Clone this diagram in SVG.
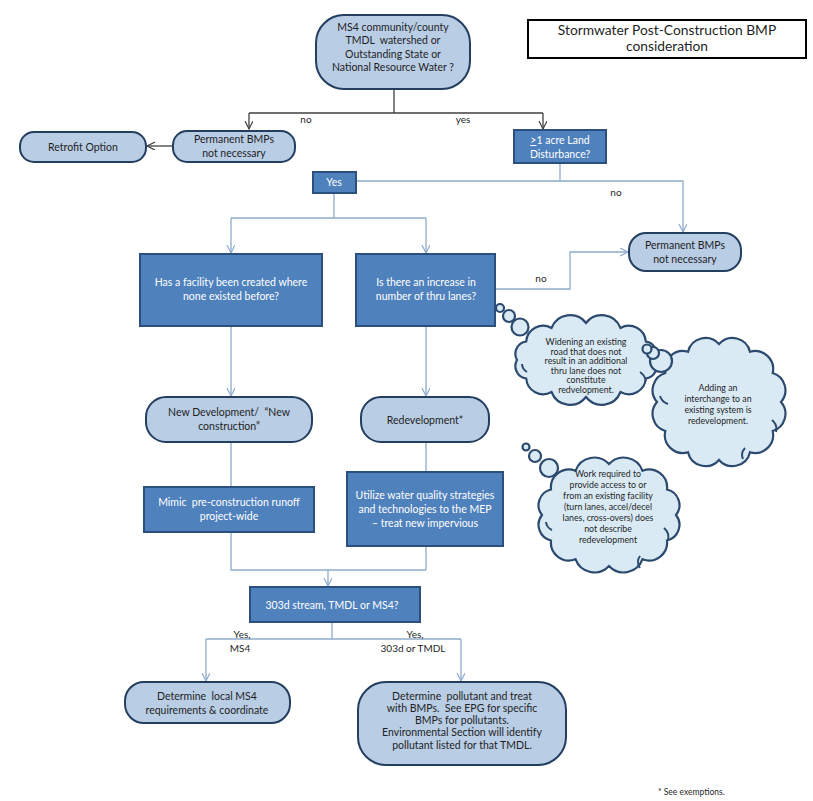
<svg xmlns="http://www.w3.org/2000/svg" width="813" height="801" viewBox="0 0 813 801">
<defs>
<style>
text{font-family:Lato,"Open Sans","Liberation Sans",sans-serif}
.lt{fill:#b9cde5;stroke:#233e5f;stroke-width:2}
.dk{fill:#4f81bd;stroke:#2b4f7e;stroke-width:2}
.cl{fill:#d9eaf5;stroke:#2c4a6e;stroke-width:2.2}
.cr{fill:none;stroke:#2c4a6e;stroke-width:2}
.t{font-size:10.5px;fill:#1f1f1f;text-anchor:middle;white-space:pre}
.w{font-size:10.5px;fill:#ffffff;text-anchor:middle;white-space:pre}
.c{font-size:8.8px;fill:#262626;text-anchor:middle}
.lb{font-size:10px;fill:#1f1f1f;text-anchor:middle}
.cd{fill:none;stroke:#404040;stroke-width:1.3}
.cb{fill:none;stroke:#8eaacc;stroke-width:1.3}
</style>
<marker id="ad" markerWidth="10" markerHeight="10" refX="8" refY="4" orient="auto" markerUnits="userSpaceOnUse"><path d="M0,0 L8,4 L0,8" fill="none" stroke="#404040" stroke-width="1.2"/></marker>
<marker id="ab" markerWidth="10" markerHeight="10" refX="8" refY="4" orient="auto" markerUnits="userSpaceOnUse"><path d="M0,0 L8,4 L0,8" fill="none" stroke="#8eaacc" stroke-width="1.2"/></marker>
</defs>
<rect width="813" height="801" fill="#ffffff"/>

<g id="connectors">
<path class="cd" d="M394,89 V113 M249,113 H543"/>
<path class="cd" d="M249,113 V129" marker-end="url(#ad)"/>
<path class="cd" d="M543,113 V129" marker-end="url(#ad)"/>
<path class="cd" d="M173,146 H147" marker-end="url(#ad)"/>
<path class="cb" d="M560,163 V181"/>
<path class="cb" d="M356,181 H683 V232" marker-end="url(#ab)"/>
<path class="cb" d="M334,193 V218 M231,218 H426"/>
<path class="cb" d="M231,218 V253" marker-end="url(#ab)"/>
<path class="cb" d="M426,218 V253" marker-end="url(#ab)"/>
<path class="cb" d="M495,289 H570 V252 H628" marker-end="url(#ab)"/>
<path class="cb" d="M231,326 V396" marker-end="url(#ab)"/>
<path class="cb" d="M426,326 V396" marker-end="url(#ab)"/>
<path class="cb" d="M231,442 V487 M426,442 V472"/>
<path class="cb" d="M231,532 V570 H426 M426,546 V570"/>
<path class="cb" d="M328,570 V586" marker-end="url(#ab)"/>
<path class="cb" d="M332,622 V639 M206,639 H461"/>
<path class="cb" d="M206,639 V681" marker-end="url(#ab)"/>
<path class="cb" d="M461,639 V681" marker-end="url(#ab)"/>
<text class="lb" x="306" y="123">no</text>
<text class="lb" x="463" y="123">yes</text>
<text class="lb" x="616" y="196">no</text>
<text class="lb" x="541" y="282">no</text>
<text class="lb" x="242" y="638">Yes,</text>
<text class="lb" x="240" y="652">MS4</text>
<text class="lb" x="415" y="638">Yes,</text>
<text class="lb" x="413" y="652">303d or TMDL</text>
</g>

<g id="title">
<rect x="528" y="20" width="278" height="38" fill="#ffffff" stroke="#000000" stroke-width="2"/>
<text x="667" y="35" font-size="13.8" fill="#1f1f1f" text-anchor="middle">Stormwater Post-Construction BMP</text>
<text x="667" y="51" font-size="13.8" fill="#1f1f1f" text-anchor="middle">consideration</text>
</g>

<g id="n-top">
<rect class="lt" x="316" y="15" width="154" height="74" rx="28"/>
<text class="t" x="393" y="31">MS4 community/county</text>
<text class="t" x="393" y="44">TMDL  watershed or</text>
<text class="t" x="393" y="58">Outstanding State or</text>
<text class="t" x="393" y="71">National Resource Water ?</text>
</g>

<g id="n-perm1">
<rect class="lt" x="173" y="131" width="122" height="31" rx="14"/>
<text class="t" x="234" y="143">Permanent BMPs</text>
<text class="t" x="234" y="157">not necessary</text>
</g>

<g id="n-retrofit">
<rect class="lt" x="20" y="132" width="126" height="30" rx="14"/>
<text class="t" x="83" y="151">Retrofit Option</text>
</g>

<g id="n-acre">
<rect class="dk" x="514" y="130" width="92" height="33"/>
<text class="w" x="560" y="144"><tspan text-decoration="underline">&gt;</tspan>1 acre Land</text>
<text class="w" x="560" y="158">Disturbance?</text>
</g>

<g id="n-yes">
<rect class="dk" x="313" y="172" width="43" height="21"/>
<text class="w" x="334" y="186">Yes</text>
</g>

<g id="n-perm2">
<rect class="lt" x="629" y="233" width="112" height="38" rx="17"/>
<text class="t" x="685" y="249">Permanent BMPs</text>
<text class="t" x="685" y="263">not necessary</text>
</g>

<g id="n-facility">
<rect class="dk" x="140" y="254" width="182" height="72"/>
<text class="w" x="231" y="286">Has a facility been created where</text>
<text class="w" x="231" y="300">none existed before?</text>
</g>

<g id="n-lanes">
<rect class="dk" x="356" y="254" width="139" height="72"/>
<text class="w" x="426" y="286">Is there an increase in</text>
<text class="w" x="426" y="300">number of thru lanes?</text>
</g>

<g id="n-newdev">
<rect class="lt" x="146" y="397" width="166" height="45" rx="20"/>
<text class="t" x="229" y="416">New Development/  “New</text>
<text class="t" x="229" y="430">construction”</text>
</g>

<g id="n-redev">
<rect class="lt" x="361" y="397" width="128" height="45" rx="20"/>
<text class="t" x="425" y="424">Redevelopment*</text>
</g>

<g id="n-mimic">
<rect class="dk" x="144" y="487" width="170" height="45"/>
<text class="w" x="229" y="506">Mimic  pre-construction runoff</text>
<text class="w" x="229" y="520">project-wide</text>
</g>

<g id="n-utilize">
<rect class="dk" x="347" y="472" width="156" height="74"/>
<text class="w" x="425" y="499">Utilize water quality strategies</text>
<text class="w" x="425" y="513">and technologies to the MEP</text>
<text class="w" x="425" y="527">– treat new impervious</text>
</g>

<g id="n-303d">
<rect class="dk" x="250" y="587" width="170" height="35"/>
<text class="w" x="332" y="609">303d stream, TMDL or MS4?</text>
</g>

<g id="n-local">
<rect class="lt" x="125" y="682" width="165" height="41" rx="19"/>
<text class="t" x="207" y="700">Determine  local MS4</text>
<text class="t" x="207" y="714">requirements &amp; coordinate</text>
</g>

<g id="n-pollutant">
<rect class="lt" x="358" y="682" width="208" height="83" rx="28"/>
<text class="t" x="462" y="700">Determine  pollutant and treat</text>
<text class="t" x="462" y="712">with BMPs.  See EPG for specific</text>
<text class="t" x="462" y="724">BMPs for pollutants.</text>
<text class="t" x="462" y="736">Environmental Section will identify</text>
<text class="t" x="462" y="749">pollutant listed for that TMDL.</text>
</g>

<g id="cloud-widening">
<circle class="cl" cx="500" cy="308" r="4"/>
<circle class="cl" cx="509" cy="316" r="6"/>
<circle class="cl" cx="520" cy="327" r="8.5"/>
<path class="cl" d="M655,360 A12.5,12.5 0 0 1 645.8,378.5 A17,17 0 0 1 620.5,392 A20,20 0 0 1 586,397 A20,20 0 0 1 551.5,392 A17,17 0 0 1 526.2,378.5 A12.5,12.5 0 0 1 517,360 A12.5,12.5 0 0 1 526.2,341.5 A17,17 0 0 1 551.5,328 A20,20 0 0 1 586,323 A20,20 0 0 1 620.5,328 A17,17 0 0 1 645.8,341.5 A12.5,12.5 0 0 1 655,360 Z"/>
<path class="cr" d="M640,372 A14,14 0 0 1 646,381 M522,364 A10,10 0 0 0 527,372"/>
<text class="c" x="586" y="345">Widening an existing</text>
<text class="c" x="586" y="354.5">road that does not</text>
<text class="c" x="586" y="364">result in an additional</text>
<text class="c" x="586" y="373.5">thru lane does not</text>
<text class="c" x="586" y="383">constitute</text>
<text class="c" x="586" y="392.5">redvelopment.</text>
</g>

<g id="cloud-interchange">
<path class="cl" d="M781,402 A18,18 0 0 1 772.7,431 A18,18 0 0 1 750,452.2 A18,18 0 0 1 719,460 A18,18 0 0 1 688,452.2 A18,18 0 0 1 665.3,431 A18,18 0 0 1 657,402 A18,18 0 0 1 665.3,373 A18,18 0 0 1 688,351.8 A18,18 0 0 1 719,344 A18,18 0 0 1 750,351.8 A18,18 0 0 1 772.7,373 A18,18 0 0 1 781,402 Z"/>
<path class="cr" d="M772,420 A12,12 0 0 1 776,432 M745,448 A10,10 0 0 0 743,459 M660,396 A12,12 0 0 0 668,404"/>
<circle class="cl" cx="661" cy="361" r="11"/>
<circle class="cl" cx="653" cy="353" r="6"/>
<circle class="cl" cx="647" cy="349" r="4.5"/>
<text class="c" x="718" y="391">Adding an</text>
<text class="c" x="718" y="402">interchange to an</text>
<text class="c" x="718" y="413">existing system is</text>
<text class="c" x="718" y="424">redevelopment.</text>
</g>

<g id="cloud-access">
<circle class="cl" cx="526" cy="447" r="3.5"/>
<circle class="cl" cx="535" cy="456" r="6"/>
<circle class="cl" cx="549" cy="468" r="9"/>
<path class="cl" d="M676,515 A16,16 0 0 1 667,540.5 A18,18 0 0 1 642.5,559.2 A20,20 0 0 1 609,566 A20,20 0 0 1 575.5,559.2 A18,18 0 0 1 551,540.5 A16,16 0 0 1 542,515 A16,16 0 0 1 551,489.5 A18,18 0 0 1 575.5,470.8 A20,20 0 0 1 609,464 A20,20 0 0 1 642.5,470.8 A18,18 0 0 1 667,489.5 A16,16 0 0 1 676,515 Z"/>
<path class="cr" d="M664,528 A12,12 0 0 1 668,540 M640,556 A10,10 0 0 0 640,568 M546,522 A10,10 0 0 0 552,530"/>
<text class="c" x="608" y="477">Work required to</text>
<text class="c" x="608" y="488">provide access to or</text>
<text class="c" x="608" y="499">from an existing facility</text>
<text class="c" x="608" y="510">(turn lanes, accel/decel</text>
<text class="c" x="608" y="521">lanes, cross-overs) does</text>
<text class="c" x="608" y="532">not describe</text>
<text class="c" x="608" y="543">redevelopment</text>
</g>

<g id="footnote">
<text x="658" y="795" font-size="8.5" fill="#1f1f1f">* See exemptions.</text>
</g>
</svg>
